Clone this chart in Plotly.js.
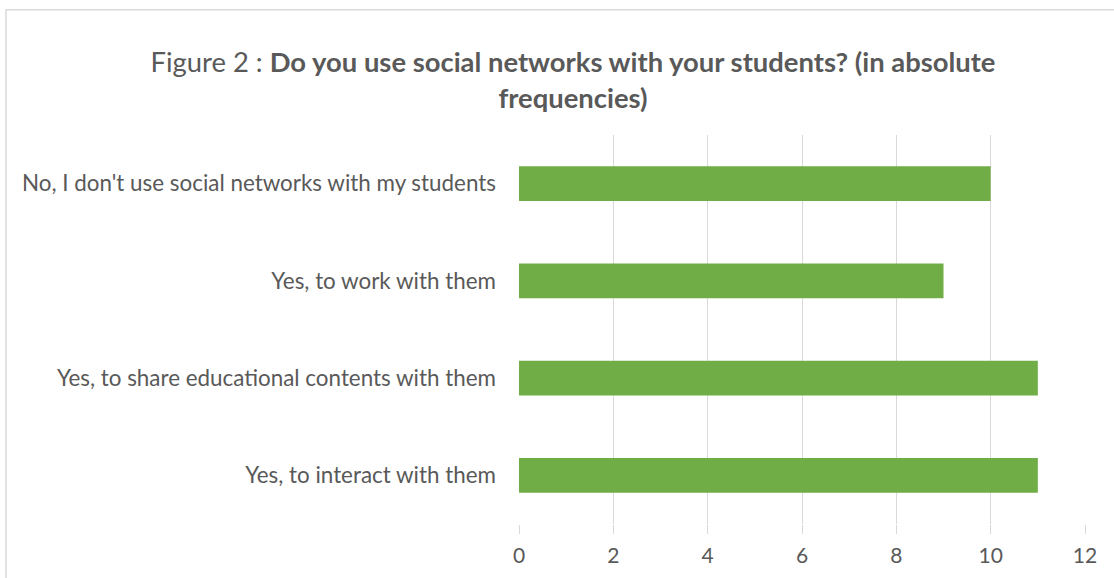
<!DOCTYPE html>
<html>
<head>
<meta charset="utf-8">
<script src="https://cdn.plot.ly/plotly-3.0.1.min.js"></script>
<style>html,body{margin:0;padding:0;background:#fff;}#chart{width:1114px;height:578px;}</style>
</head>
<body>
<div id="chart"></div>
<script>
const categories = [
  "Yes, to interact with them",
  "Yes, to share educational contents with them",
  "Yes, to work with them",
  "No, I don't use social networks with my students"
];
const values = [11, 11, 9, 10];
const xTicks = [0, 2, 4, 6, 8, 10, 12];

const FONT = "Lato, 'Open Sans', sans-serif";
const TXT = "#595959";
const GRID = "#d9d9d9";

const trace = {
  type: "bar",
  orientation: "h",
  y: categories,
  x: values,
  marker: {color: "#70AD47", line: {width: 0}},
  hoverinfo: "x+y"
};

const layout = {
  width: 1114, height: 578,
  margin: {l: 519, r: 29, t: 135, b: 54, pad: 0},
  paper_bgcolor: "#fff", plot_bgcolor: "#fff",
  showlegend: false,
  bargap: 0.645,
  font: {family: FONT, color: TXT, size: 16},
  title: {
    text: "Figure 2 : <b>Do you use social networks with your students? (in absolute</b><br><b>frequencies)</b>",
    font: {family: FONT, size: 27.4, color: TXT},
    x: 573/1114, xref: "container", xanchor: "center",
    y: 1 - 72/578, yref: "container", yanchor: "top"
  },
  xaxis: {
    range: [0, 12],
    tickvals: xTicks,
    ticktext: xTicks.map(String),
    showgrid: true, gridcolor: GRID, gridwidth: 1,
    zeroline: false, showline: false,
    ticks: "outside", ticklen: 9, tickcolor: GRID, tickwidth: 1,
    ticklabelstandoff: 4,
    tickfont: {family: FONT, size: 21, color: TXT},
    fixedrange: true
  },
  yaxis: {
    type: "category",
    categoryorder: "array", categoryarray: categories,
    showgrid: false, zeroline: false, showline: false,
    ticks: "", ticklabelstandoff: 22,
    tickfont: {family: FONT, size: 22.4, color: TXT},
    fixedrange: true
  },
  shapes: [{
    type: "rect", xref: "paper", yref: "paper",
    x0: (6 - 519) / 566, x1: 1.3,
    y0: -0.5, y1: (523.6 - 10) / 388.6,
    line: {color: GRID, width: 1.5}, fillcolor: "rgba(0,0,0,0)", layer: "below"
  }]
};

Plotly.newPlot("chart", [trace], layout, {displayModeBar: false, staticPlot: true});
</script>
</body>
</html>
